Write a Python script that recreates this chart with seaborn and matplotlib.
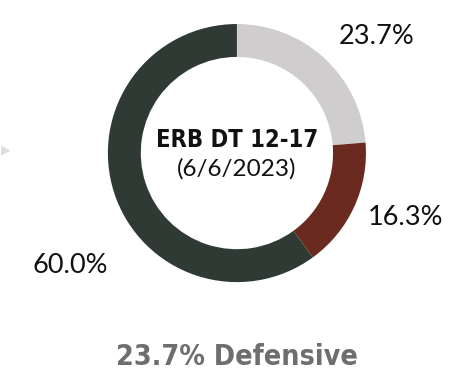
import matplotlib
matplotlib.use('Agg')
import matplotlib.pyplot as plt
import seaborn as sns

categories = ['Defensive', 'Other', 'Growth']
shares = [23.7, 16.3, 60.0]
colors = ['#cfcdcd', '#6b2a1f', '#2f3a35']
title = 'ERB DT 12-17'
subtitle = '(6/6/2023)'
footer = '23.7% Defensive'

sns.set_theme(style='white')
plt.rcParams['font.family'] = ['DejaVu Sans']

fig = plt.figure(figsize=(4.65, 3.87), dpi=100)
ax = fig.add_axes([0.232, 0.271, 0.555, 0.667])
ax.pie(shares, colors=colors, startangle=90, counterclock=False,
       radius=1, wedgeprops=dict(width=0.255, linewidth=0))
ax.set_xlim(-1, 1)
ax.set_ylim(-1, 1)
ax.set_aspect('equal')
ax.axis('off')

# percentage labels outside the ring
label_pos = [(1.08, 0.90), (1.31, -0.50), (-1.29, -0.87)]
for v, (x, y) in zip(shares, label_pos):
    ax.text(x, y, f'{v:.1f}%', ha='center', va='center', fontsize=19.5,
            family='Lato', fontweight='normal', color='#111111',
            clip_on=False)

ax.text(0, 0.10, title, ha='center', va='center', fontsize=17,
        fontweight='bold', fontstretch='condensed', color='#111111')
ax.text(0, -0.12, subtitle, ha='center', va='center', fontsize=17.5,
        family='Lato', fontweight='normal', color='#111111')

fig.text(0.51, 0.077, footer, ha='center', va='center', fontsize=20.5,
         fontweight='bold', fontstretch='condensed', color='#6e6e6e')
fig.text(0.012, 0.612, '\u25B6', ha='center', va='center', fontsize=9,
         color='#dddddd')

fig.savefig('out.png', dpi=100)
